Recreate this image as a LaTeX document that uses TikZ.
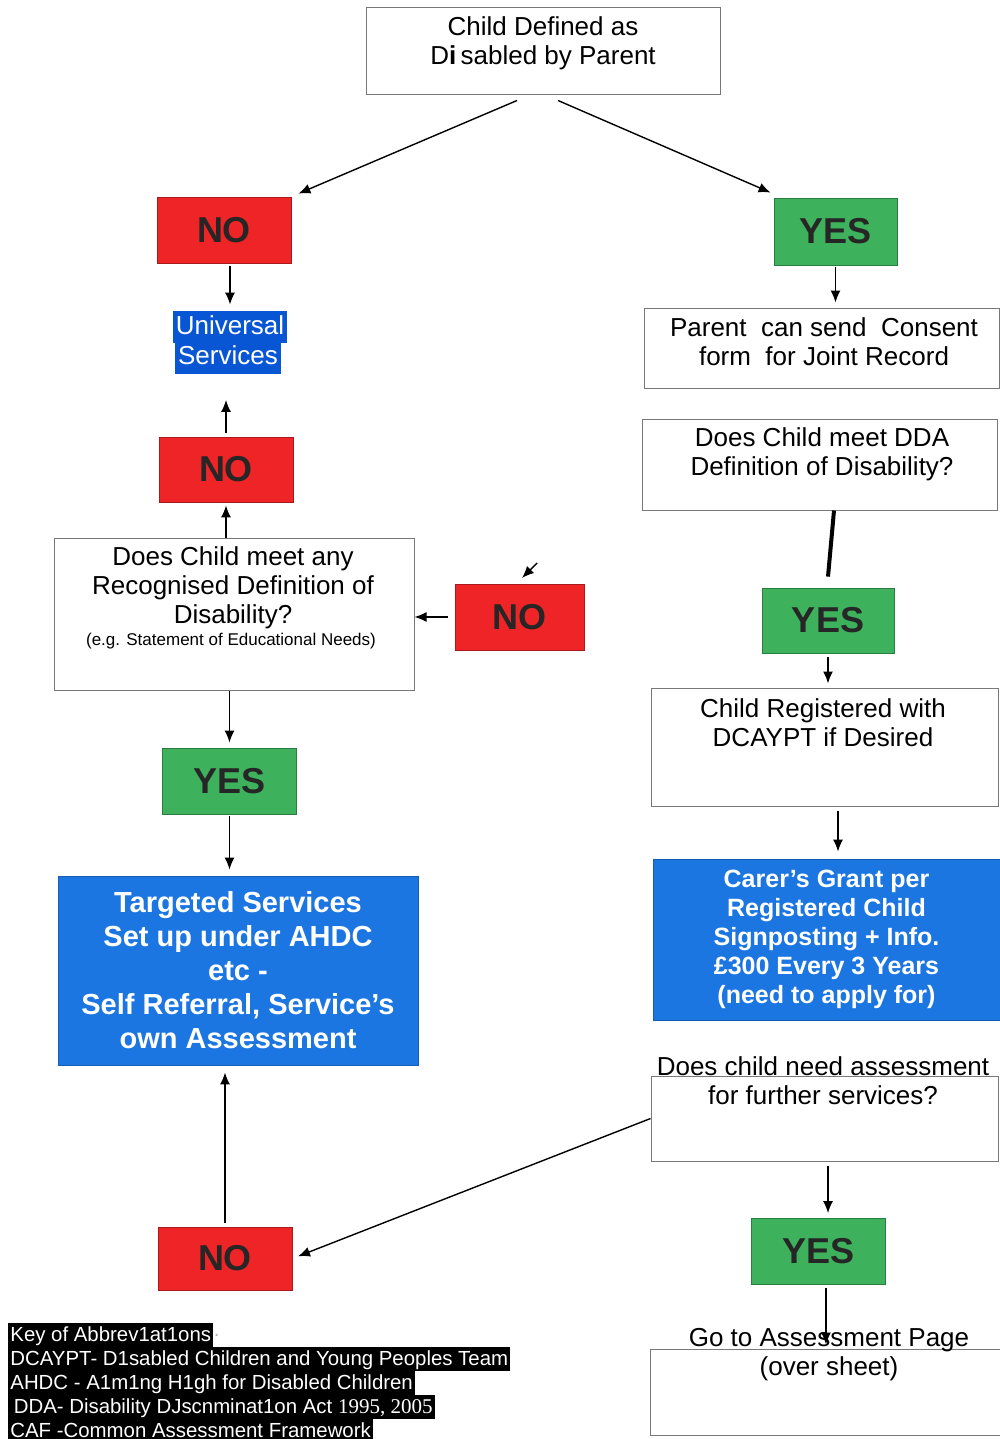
\documentclass[tikz,border=0pt]{standalone}
\usepackage{fontspec}
\setmainfont{Liberation Sans}
\newfontfamily\keyserif{Liberation Serif}
\usetikzlibrary{arrows.meta}
\definecolor{noRed}{RGB}{238,36,38}
\definecolor{yesGreen}{RGB}{62,177,92}
\definecolor{serviceBlue}{RGB}{28,118,226}
\definecolor{highlightBlue}{RGB}{8,86,212}
\definecolor{markText}{RGB}{38,38,38}
\definecolor{frameGray}{RGB}{120,120,120}

\begin{document}
\begin{tikzpicture}[
    x=0.5pt, y=-0.5pt,
    nobox/.style={rectangle, draw=noRed!70!black, line width=0.4pt, fill=noRed, minimum width=67pt, minimum height=33pt, font=\fontsize{18}{18}\selectfont\bfseries, text=markText},
    yesbox/.style={nobox, draw=yesGreen!70!black, fill=yesGreen},
    framebox/.style={rectangle, draw=frameGray, line width=0.5pt, inner sep=0pt},
    boxtext/.style={align=center, font=\fontsize{13}{14.5}\selectfont, inner sep=0pt},
    servicebox/.style={rectangle, fill=serviceBlue, draw=serviceBlue!80!black, line width=0.4pt, text=white, align=center, inner sep=0pt},
    highlight/.style={fill=highlightBlue, text=white, font=\fontsize{13}{14.5}\selectfont, inner xsep=1.5pt, inner ysep=1.5pt, text height=10pt, text depth=3pt},
    keyline/.style={anchor=west, fill=black, text=white, font=\fontsize{10.2}{12}\selectfont, inner xsep=1pt, inner ysep=0.5pt, text height=8.5pt, text depth=2.5pt},
    arrow/.style={-{Latex[length=6pt,width=5pt]}, line width=0.7pt}
]
\useasboundingbox (0,0) rectangle (1000,1439);

\node[framebox, minimum width=177pt, minimum height=43.5pt] (parent) at (543,51.5) {};
\node[boxtext] (parenttext) at (543,43) {Child Defined as\\D{\bfseries i}\,sabled by Parent};

\node[nobox] (noA) at (224,230) {NO};
\node[yesbox, minimum width=61.5pt, minimum height=33.5pt] (yesA) at (835.5,231.5) {YES};
\node[highlight] (univA) at (230,327) {Universal};
\node[highlight] (univB) at (228,357.5) {Services};
\node[nobox, minimum height=32.5pt] (noB) at (226,469.5) {NO};
\node[framebox, minimum width=180pt, minimum height=76pt] (anydef) at (234,614) {};
\node[boxtext] (anydeftext) at (233,588) {Does Child meet any\\Recognised Definition of\\Disability?};
\node[boxtext, font=\fontsize{8.5}{10}\selectfont] (anydefnote) at (231,641) {(e.g. Statement of Educational Needs)};
\node[nobox, minimum width=64.5pt] (noC) at (519.5,617) {NO};
\coordinate (strayA) at (537,563);
\coordinate (strayB) at (522,578);
\node[yesbox] (yesB) at (229.5,781) {YES};
\node[servicebox, minimum width=180pt, minimum height=94.5pt, font=\fontsize{14.5}{17}\selectfont\bfseries] (targeted) at (238,970.5) {Targeted Services\\Set up under AHDC\\etc -\\Self Referral, Service’s\\own Assessment};
\node[nobox, minimum height=31.5pt] (noD) at (225,1258.5) {NO};

\node[framebox, minimum width=177.5pt, minimum height=40pt] (consent) at (821.5,348) {};
\node[boxtext] (consenttext) at (824,342) {Parent\ \ can send\ \ Consent\\form\ \ for\ Joint Record};
\node[framebox, minimum width=177.5pt, minimum height=45.5pt] (dda) at (819.5,464.5) {};
\node[boxtext] (ddatext) at (822,454) {Does Child meet DDA\\Definition of Disability?};
\node[yesbox, minimum width=66pt, minimum height=32.5pt] (yesC) at (828,620.5) {YES};
\node[framebox, minimum width=173.5pt, minimum height=59pt] (register) at (824.5,747) {};
\node[boxtext] (registertext) at (823,723) {Child Registered with\\DCAYPT\ if\ Desired};
\node[servicebox, minimum width=173.5pt, minimum height=80.5pt, font=\fontsize{12.5}{14.5}\selectfont\bfseries] (grant) at (826.5,939.5) {Carer’s Grant per\\Registered Child\\Signposting + Info.\\£300 Every 3 Years\\(need to apply for)};
\node[framebox, minimum width=173.5pt, minimum height=42.5pt] (further) at (824.5,1118.5) {};
\node[boxtext] (furthertext) at (823,1081) {Does\ child need\ assessment\\for further services?};
\node[yesbox] (yesD) at (818.5,1251.5) {YES};
\node[framebox, minimum width=175pt, minimum height=43pt] (assess) at (825,1392) {};
\node[boxtext] (assesstext) at (829,1355) {Go to Assessment Page\\(over\ sheet)};

\node[keyline] (keyA) at (8,1335) {Key of Abbrev1at1ons};
\node[anchor=west, text=gray!60, inner sep=0pt, font=\fontsize{10.2}{12}\selectfont] (keydot) at (keyA.east) {.};
\node[keyline] (keyB) at (8,1359) {DCAYPT- D1sabled Children and Young Peoples Team};
\node[keyline] (keyC) at (8,1383) {AHDC - A1m1ng H1gh for Disabled Children};
\node[keyline] (keyD) at (8,1407) {\,DDA- Disability DJscnminat1on Act {\keyserif\fontsize{10.5}{12}\selectfont 1995,\ 2005}};
\node[keyline] (keyE) at (8,1431) {CAF -Common Assessment Framework};

\draw[arrow] ([xshift=-13pt,yshift=-2.5pt]parent.south) -- ([xshift=3.5pt,yshift=1.5pt]noA.north east);
\draw[arrow] ([xshift=7.5pt,yshift=-2.5pt]parent.south) -- ([xshift=-1.5pt,yshift=2.5pt]yesA.north west);
\draw[arrow, shorten <=1.5pt, shorten >=3pt] (noA.south -| univA.north) -- (univA.north);
\draw[arrow, shorten <=2pt, shorten >=13pt] (noB.north) -- (noB.north |- univB.south);
\draw[arrow, shorten >=1.5pt] (anydef.north -| noB.south) -- (noB.south);
\draw[arrow, shorten <=3.5pt] (noC.west) -- (noC.west -| anydef.east);
\draw[arrow] (strayA) -- (strayB);
\draw[arrow, shorten >=2.5pt] (anydef.south -| yesB.north) -- (yesB.north);
\draw[arrow, shorten <=1pt, shorten >=3pt] (yesB.south) -- (yesB.south |- targeted.north);
\draw[arrow, shorten <=2pt, shorten >=3.5pt] (noD.north) -- (noD.north |- targeted.south);
\draw[arrow, shorten >=3pt] (further.west) -- (noD.east);

\draw[arrow, shorten <=1pt, shorten >=2.5pt] (yesA.south) -- (yesA.south |- consent.north);
\draw[line width=2pt] ([xshift=7.25pt]dda.south) -- ([yshift=5.5pt]yesC.north);
\draw[arrow, shorten <=2pt, shorten >=2pt] (yesC.south) -- (yesC.south |- register.north);
\draw[arrow] ([xshift=6.75pt,yshift=-2pt]register.south) -- ([xshift=5.75pt,yshift=3.5pt]grant.north);
\draw[arrow] ([xshift=1.75pt,yshift=-2pt]further.south) -- ([xshift=4.75pt,yshift=2.5pt]yesD.north);
\draw[arrow] ([xshift=3.75pt,yshift=-1.5pt]yesD.south) -- ([xshift=0.5pt,yshift=2pt]assess.north);
\end{tikzpicture}
\end{document}
